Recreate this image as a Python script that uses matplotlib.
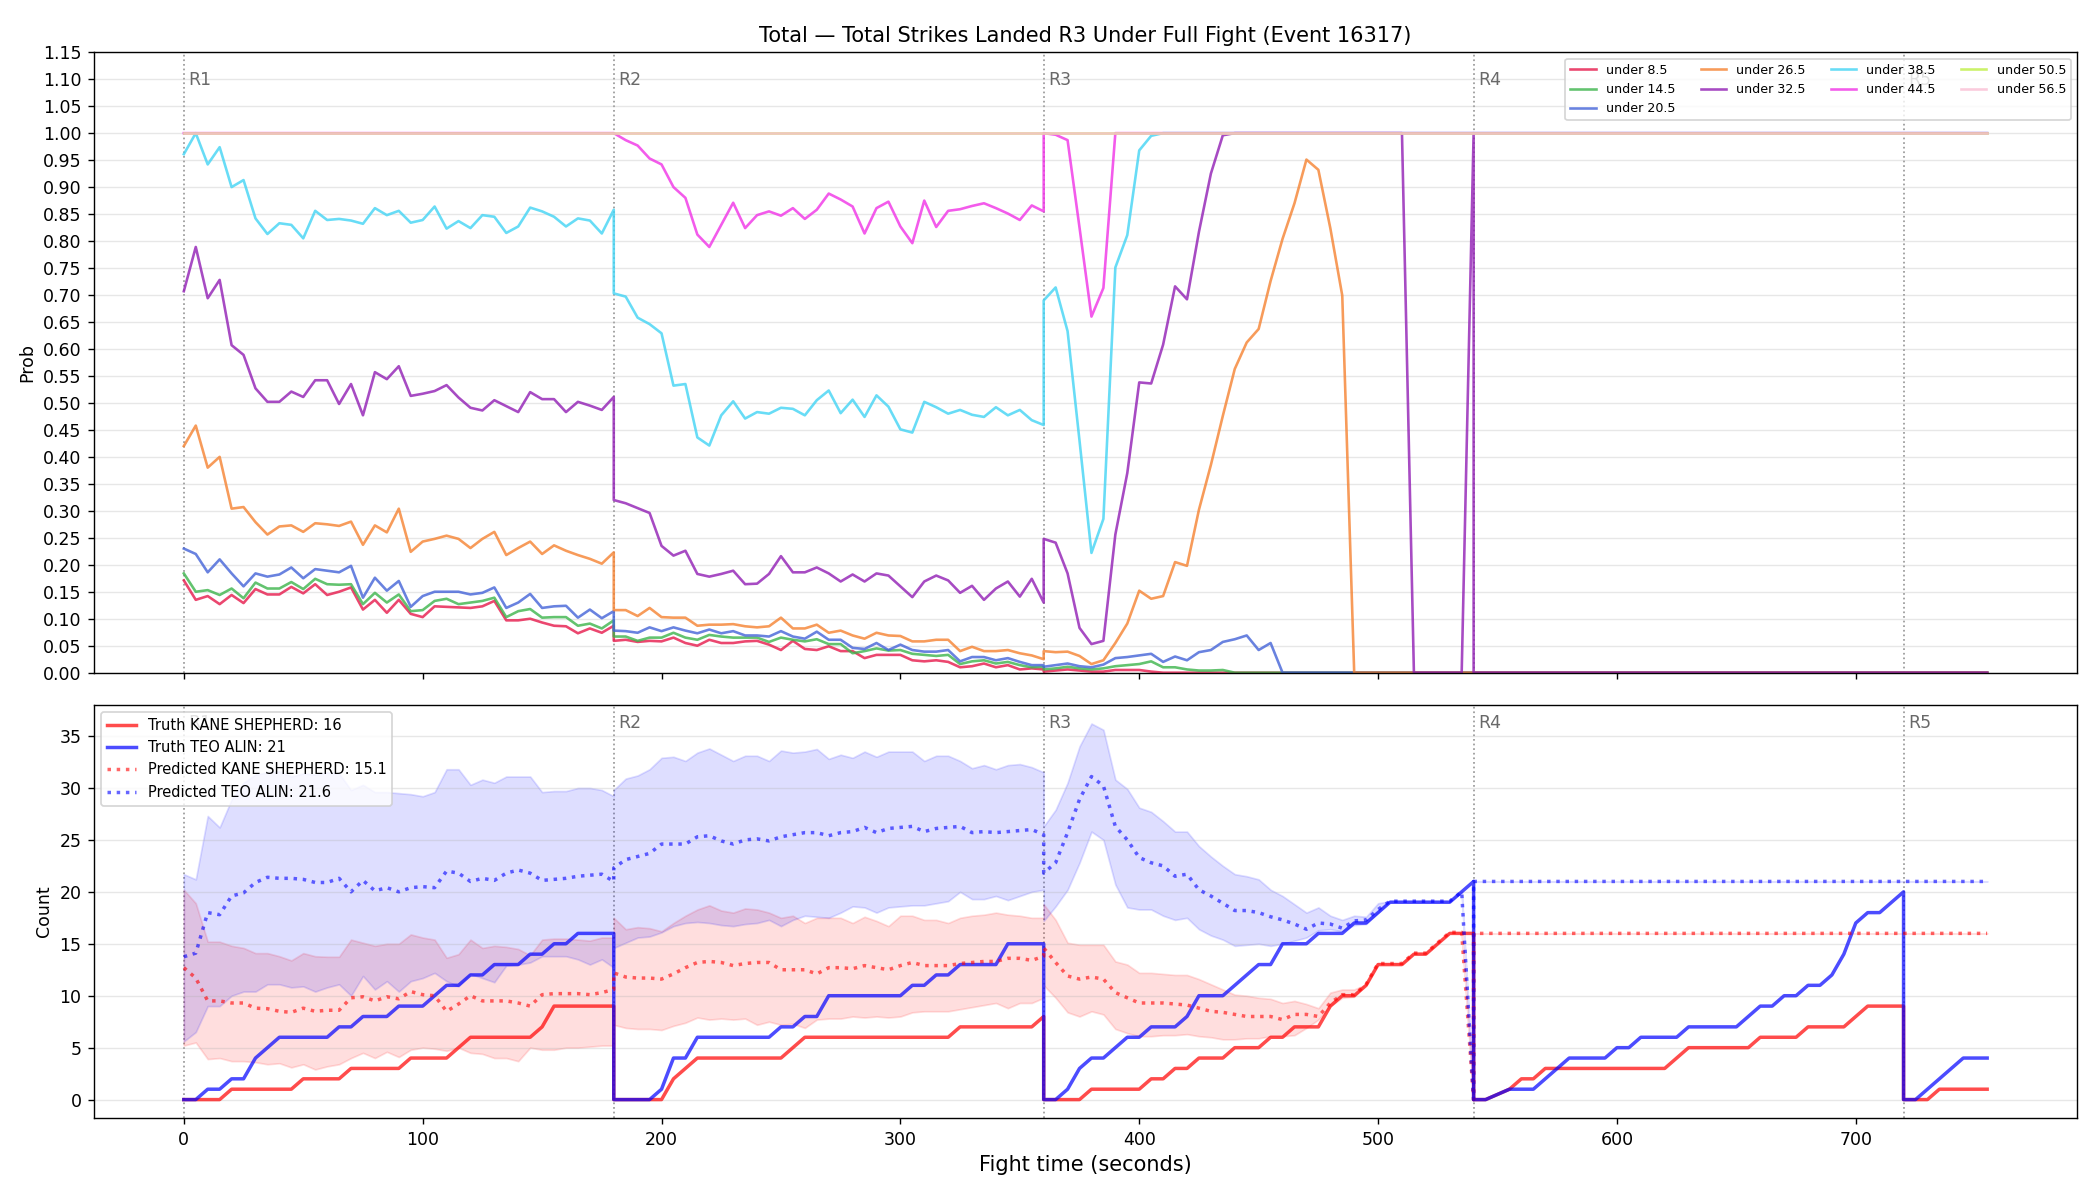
import numpy as np
import matplotlib.pyplot as plt

# rounds: start second, sampling every 5 s inside each round (R5 stops at 35 s)
round_starts = [0, 180, 360, 540, 720]
round_names = ["R1", "R2", "R3", "R4", "R5"]
round_clock = np.arange(0, 181, 5)
r5_clock = np.arange(0, 36, 5)

# after R3 is over the market is settled: flat 0 or 1 through R4 and R5
late_zero = [0.0] * 45
late_one = [1.0] * 45

# ---- top panel: P(R3 total strikes under X) ----
under_8_5 = (
    [0.171, 0.135, 0.142, 0.127, 0.144, 0.129, 0.155, 0.145, 0.145, 0.159,
     0.147, 0.164, 0.144, 0.150, 0.158, 0.117, 0.135, 0.111, 0.135, 0.109,
     0.103, 0.123, 0.122, 0.121, 0.120, 0.123, 0.133, 0.097, 0.097, 0.100,
     0.093, 0.087, 0.086, 0.073, 0.082, 0.074, 0.087]
    + [0.059, 0.061, 0.057, 0.059, 0.058, 0.065, 0.055, 0.050, 0.061, 0.055,
       0.055, 0.058, 0.059, 0.052, 0.042, 0.059, 0.044, 0.042, 0.049, 0.040,
       0.040, 0.027, 0.033, 0.033, 0.033, 0.023, 0.021, 0.023, 0.020, 0.010,
       0.012, 0.017, 0.010, 0.014, 0.006, 0.008, 0.006]
    + [0.002, 0.004, 0.006, 0.004, 0.002, 0.002, 0.005, 0.005, 0.005, 0.002]
    + [0.0] * 27
    + late_zero
)
under_14_5 = (
    [0.184, 0.150, 0.153, 0.144, 0.156, 0.138, 0.167, 0.156, 0.156, 0.168,
     0.155, 0.174, 0.164, 0.163, 0.164, 0.127, 0.148, 0.130, 0.145, 0.114,
     0.116, 0.133, 0.137, 0.127, 0.130, 0.133, 0.139, 0.103, 0.114, 0.118,
     0.102, 0.103, 0.103, 0.087, 0.091, 0.082, 0.097]
    + [0.067, 0.067, 0.059, 0.065, 0.065, 0.074, 0.065, 0.061, 0.070, 0.067,
       0.065, 0.065, 0.065, 0.057, 0.065, 0.061, 0.058, 0.062, 0.053, 0.053,
       0.036, 0.040, 0.045, 0.041, 0.042, 0.035, 0.033, 0.031, 0.033, 0.016,
       0.021, 0.023, 0.017, 0.020, 0.014, 0.010, 0.011]
    + [0.006, 0.008, 0.011, 0.008, 0.006, 0.008, 0.012, 0.014, 0.016, 0.021,
       0.010, 0.010, 0.006, 0.004, 0.004, 0.005]
    + [0.0] * 21
    + late_zero
)
under_20_5 = (
    [0.230, 0.220, 0.186, 0.210, 0.184, 0.160, 0.184, 0.178, 0.182, 0.195,
     0.175, 0.192, 0.189, 0.186, 0.198, 0.139, 0.176, 0.152, 0.170, 0.122,
     0.142, 0.150, 0.150, 0.150, 0.145, 0.148, 0.158, 0.120, 0.130, 0.146,
     0.120, 0.123, 0.124, 0.102, 0.117, 0.101, 0.114]
    + [0.078, 0.077, 0.074, 0.084, 0.077, 0.084, 0.078, 0.073, 0.080, 0.073,
       0.077, 0.069, 0.069, 0.067, 0.077, 0.067, 0.063, 0.076, 0.061, 0.061,
       0.046, 0.044, 0.055, 0.042, 0.052, 0.042, 0.039, 0.039, 0.042, 0.021,
       0.029, 0.029, 0.023, 0.027, 0.020, 0.014, 0.014]
    + [0.011, 0.014, 0.017, 0.012, 0.010, 0.015, 0.027, 0.029, 0.032, 0.035,
       0.020, 0.030, 0.023, 0.038, 0.042, 0.057, 0.062, 0.069, 0.042, 0.055]
    + [0.0] * 17
    + late_zero
)
under_26_5 = (
    [0.420, 0.458, 0.380, 0.400, 0.304, 0.307, 0.279, 0.256, 0.271, 0.273,
     0.261, 0.277, 0.275, 0.272, 0.280, 0.237, 0.273, 0.260, 0.304, 0.224,
     0.243, 0.248, 0.254, 0.248, 0.231, 0.248, 0.261, 0.218, 0.231, 0.243,
     0.220, 0.236, 0.226, 0.218, 0.211, 0.202, 0.223]
    + [0.116, 0.116, 0.105, 0.120, 0.103, 0.102, 0.102, 0.087, 0.089, 0.089,
       0.090, 0.086, 0.084, 0.086, 0.102, 0.082, 0.082, 0.089, 0.074, 0.078,
       0.069, 0.063, 0.074, 0.069, 0.068, 0.058, 0.058, 0.061, 0.061, 0.040,
       0.048, 0.040, 0.040, 0.042, 0.036, 0.032, 0.025]
    + [0.040, 0.038, 0.039, 0.031, 0.016, 0.023, 0.055, 0.091, 0.152, 0.137,
       0.142, 0.205, 0.198, 0.302, 0.385, 0.476, 0.563, 0.612, 0.637, 0.726,
       0.804, 0.870, 0.951, 0.932, 0.824, 0.699]
    + [0.0] * 11
    + late_zero
)
under_32_5 = (
    [0.707, 0.789, 0.694, 0.728, 0.607, 0.589, 0.527, 0.502, 0.502, 0.521,
     0.511, 0.542, 0.542, 0.498, 0.535, 0.477, 0.557, 0.544, 0.568, 0.513,
     0.517, 0.522, 0.533, 0.510, 0.491, 0.486, 0.505, 0.494, 0.483, 0.520,
     0.507, 0.507, 0.483, 0.502, 0.495, 0.487, 0.511]
    + [0.320, 0.314, 0.305, 0.296, 0.235, 0.217, 0.226, 0.183, 0.178, 0.183,
       0.189, 0.164, 0.165, 0.183, 0.216, 0.186, 0.186, 0.195, 0.184, 0.169,
       0.182, 0.169, 0.184, 0.180, 0.160, 0.140, 0.169, 0.180, 0.171, 0.148,
       0.161, 0.135, 0.156, 0.169, 0.141, 0.174, 0.130]
    + [0.248, 0.241, 0.184, 0.083, 0.053, 0.059, 0.256, 0.370, 0.538, 0.536,
       0.608, 0.716, 0.692, 0.817, 0.925, 0.996]
    + [1.0] * 15 + [0.0] * 5 + [1.0]
    + late_zero
)
under_38_5 = (
    [0.961, 1.000, 0.942, 0.974, 0.900, 0.913, 0.842, 0.813, 0.833, 0.830,
     0.805, 0.856, 0.839, 0.841, 0.838, 0.832, 0.861, 0.848, 0.856, 0.834,
     0.839, 0.864, 0.823, 0.837, 0.824, 0.848, 0.845, 0.815, 0.827, 0.862,
     0.855, 0.845, 0.827, 0.842, 0.838, 0.814, 0.858]
    + [0.703, 0.697, 0.658, 0.646, 0.629, 0.532, 0.535, 0.436, 0.421, 0.477,
       0.503, 0.471, 0.483, 0.480, 0.491, 0.489, 0.477, 0.505, 0.523, 0.481,
       0.506, 0.474, 0.514, 0.493, 0.451, 0.445, 0.502, 0.492, 0.480, 0.487,
       0.478, 0.474, 0.492, 0.477, 0.487, 0.468, 0.459]
    + [0.690, 0.714, 0.633, 0.430, 0.222, 0.285, 0.751, 0.811, 0.968, 0.995]
    + [1.0] * 27
    + late_one
)
under_44_5 = (
    [1.0] * 37
    + [1.000, 0.987, 0.977, 0.953, 0.942, 0.900, 0.880, 0.812, 0.789, 0.830,
       0.871, 0.824, 0.848, 0.855, 0.847, 0.861, 0.841, 0.858, 0.888, 0.877,
       0.864, 0.814, 0.861, 0.873, 0.827, 0.796, 0.875, 0.826, 0.856, 0.859,
       0.865, 0.870, 0.861, 0.851, 0.839, 0.866, 0.855]
    + [1.000, 0.997, 0.987, 0.825, 0.660, 0.713]
    + [1.0] * 31
    + late_one
)
under_50_5 = [1.0] * 111 + late_one
under_56_5 = [1.0] * 111 + late_one

line_labels = ["under 8.5", "under 14.5", "under 20.5", "under 26.5", "under 32.5",
               "under 38.5", "under 44.5", "under 50.5", "under 56.5"]
line_colors = ["#e6194B", "#3cb44b", "#4363d8", "#f58231", "#911eb4",
               "#42d4f4", "#f032e6", "#bfef45", "#fabed4"]

# ---- bottom panel: strikes per fighter (truth resets every round) ----
truth_kane = (
    [0, 0, 0, 0, 1, 1, 1, 1, 1, 1, 2, 2, 2, 2, 3, 3, 3, 3, 3, 4,
     4, 4, 4, 5, 6, 6, 6, 6, 6, 6, 7, 9, 9, 9, 9, 9, 9]
    + [0, 0, 0, 0, 0, 2, 3, 4, 4, 4, 4, 4, 4, 4, 4, 5, 6, 6, 6, 6,
       6, 6, 6, 6, 6, 6, 6, 6, 6, 7, 7, 7, 7, 7, 7, 7, 8]
    + [0, 0, 0, 0, 1, 1, 1, 1, 1, 2, 2, 3, 3, 4, 4, 4, 5, 5, 5, 6,
       6, 7, 7, 7, 9, 10, 10, 11, 13, 13, 13, 14, 14, 15, 16, 16, 16]
    + [0, 0, 0.5, 1, 2, 2, 3, 3, 3, 3, 3, 3, 3, 3, 3, 3, 3, 4, 5, 5,
       5, 5, 5, 5, 6, 6, 6, 6, 7, 7, 7, 7, 8, 9, 9, 9, 9]
    + [0, 0, 0, 1, 1, 1, 1, 1]
)
truth_teo = (
    [0, 0, 1, 1, 2, 2, 4, 5, 6, 6, 6, 6, 6, 7, 7, 8, 8, 8, 9, 9,
     9, 10, 11, 11, 12, 12, 13, 13, 13, 14, 14, 15, 15, 16, 16, 16, 16]
    + [0, 0, 0, 0, 1, 4, 4, 6, 6, 6, 6, 6, 6, 6, 7, 7, 8, 8, 10, 10,
       10, 10, 10, 10, 10, 11, 11, 12, 12, 13, 13, 13, 13, 15, 15, 15, 15]
    + [0, 0, 1, 3, 4, 4, 5, 6, 6, 7, 7, 7, 8, 10, 10, 10, 11, 12, 13, 13,
       15, 15, 15, 16, 16, 16, 17, 17, 18, 19, 19, 19, 19, 19, 19, 20, 21]
    + [0, 0, 0.5, 1, 1, 1, 2, 3, 4, 4, 4, 4, 5, 5, 6, 6, 6, 6, 7, 7,
       7, 7, 7, 8, 9, 9, 10, 10, 11, 11, 12, 14, 17, 18, 18, 19, 20]
    + [0, 0, 1, 2, 3, 4, 4, 4]
)
pred_kane = (
    [12.7, 11.7, 9.5, 9.5, 9.3, 9.3, 8.8, 8.75, 8.5, 8.4, 8.8, 8.5, 8.6, 8.6, 9.8,
     9.9, 9.5, 9.9, 9.7, 10.4, 10.1, 10.0, 8.5, 9.2, 10.0, 9.5, 9.5, 9.5, 9.3, 9.0,
     10.1, 10.2, 10.2, 10.2, 10.1, 10.3, 10.6]
    + [12.2, 11.8, 11.7, 11.7, 11.6, 12.1, 12.7, 13.2, 13.3, 13.2, 12.9, 13.1, 13.2,
       13.2, 12.5, 12.5, 12.5, 12.1, 12.7, 12.7, 12.6, 12.9, 12.7, 12.5, 12.9, 13.2,
       12.9, 12.9, 12.9, 13.1, 13.2, 13.3, 13.3, 13.6, 13.6, 13.4, 13.8]
    + [14.6, 13.2, 11.9, 11.6, 11.8, 11.6, 10.3, 9.8, 9.3, 9.3, 9.3, 9.2, 9.1, 8.8,
       8.5, 8.4, 8.2, 8.0, 8.0, 8.0, 7.7, 8.2, 8.2, 8.0, 9.3, 10.1, 10.1, 11.1, 13.1,
       13.1, 13.1, 14.1, 14.1, 15.1, 16.1, 16.1, 0.0]
    + [16.0] * 45
)
kane_low = (
    [5.2, 5.5, 3.9, 4.0, 3.7, 3.7, 3.6, 3.4, 3.5, 3.1, 3.4, 2.9, 3.2, 3.4, 4.0,
     4.5, 4.0, 4.6, 4.1, 4.8, 5.0, 4.9, 4.7, 5.0, 4.5, 4.4, 4.0, 4.0, 3.7, 5.0,
     4.8, 4.8, 5.0, 5.0, 5.1, 5.2, 5.2]
    + [7.2, 6.9, 6.8, 6.8, 6.7, 7.1, 7.4, 7.9, 7.7, 7.8, 7.7, 7.8, 7.2, 7.5, 7.2,
       7.3, 6.9, 7.7, 7.8, 7.8, 8.0, 7.9, 8.0, 7.9, 8.0, 8.4, 8.5, 8.5, 8.5, 8.7,
       8.9, 9.1, 9.3, 8.8, 9.3, 9.3, 9.8]
    + [11.0, 9.8, 8.4, 8.0, 8.5, 8.2, 6.8, 6.4, 6.1, 6.1, 6.2, 6.2, 6.3, 6.1, 6.0,
       5.8, 5.8, 5.9, 5.9, 6.1, 6.1, 6.2, 6.9, 7.7, 9.0, 9.8, 9.9, 11.1, 13.1,
       13.1, 13.1, 14.1, 14.1, 15.1, 16.1, 16.1, 0.0]
    + [16.0] * 45
)
kane_high = (
    [20.2, 18.9, 15.2, 15.2, 14.8, 14.6, 14.1, 14.1, 13.8, 13.4, 14.1, 13.8, 13.75,
     13.75, 15.4, 15.1, 14.8, 15.0, 15.0, 15.9, 15.6, 15.4, 13.65, 14.0, 15.4, 14.6,
     14.8, 14.7, 14.5, 13.9, 15.4, 15.5, 15.5, 15.4, 15.3, 15.6, 15.6]
    + [17.5, 16.4, 16.6, 16.5, 16.2, 17.0, 17.7, 18.3, 18.7, 18.2, 18.0, 18.4, 18.3,
       18.0, 17.5, 17.7, 17.0, 17.5, 17.5, 17.5, 17.0, 17.6, 17.2, 16.7, 17.7, 17.7,
       17.3, 17.3, 17.0, 17.5, 17.7, 17.8, 18.0, 17.8, 17.7, 17.5, 17.5]
    + [18.8, 17.3, 15.1, 14.9, 14.9, 14.9, 13.3, 13.0, 12.2, 12.2, 12.1, 12.0, 12.0,
       11.6, 11.1, 10.6, 10.1, 10.0, 9.8, 9.7, 9.3, 9.5, 9.2, 8.8, 10.3, 10.6, 10.6,
       11.1, 13.1, 13.1, 13.1, 14.1, 14.1, 15.1, 16.1, 16.1, 0.0]
    + [16.0] * 45
)
pred_teo = (
    [13.75, 14.1, 18.0, 17.8, 19.6, 19.9, 20.9, 21.4, 21.3, 21.3, 21.2, 20.9, 20.9,
     21.3, 20.0, 21.1, 20.1, 20.4, 20.0, 20.4, 20.5, 20.4, 22.0, 21.8, 21.0, 21.3,
     21.1, 21.8, 22.1, 21.8, 21.1, 21.2, 21.3, 21.5, 21.6, 21.7, 21.0]
    + [22.3, 23.1, 23.4, 23.7, 24.6, 24.6, 24.6, 25.3, 25.4, 24.9, 24.6, 25.0, 25.1,
       24.9, 25.3, 25.5, 25.7, 25.7, 25.4, 25.7, 25.8, 26.2, 25.7, 26.1, 26.2, 26.3,
       25.8, 26.1, 26.2, 26.3, 25.7, 25.8, 25.7, 25.8, 25.9, 26.0, 25.5]
    + [21.8, 22.8, 25.7, 28.9, 31.1, 30.2, 26.3, 25.0, 23.3, 22.8, 22.5, 21.5, 21.7,
       20.2, 19.6, 18.9, 18.2, 18.2, 18.0, 17.6, 17.3, 16.9, 16.4, 17.0, 16.9, 16.5,
       17.2, 17.3, 18.3, 19.1, 19.1, 19.1, 19.1, 19.1, 19.1, 20.0, 0.0]
    + [21.0] * 45
)
teo_low = (
    [5.6, 6.5, 9.0, 9.0, 10.0, 10.4, 10.4, 11.1, 11.1, 10.8, 10.9, 10.4, 10.8, 11.1,
     10.0, 11.9, 10.6, 11.4, 10.4, 11.4, 11.7, 12.2, 11.4, 10.9, 12.1, 11.7, 11.3,
     12.9, 13.0, 13.2, 13.8, 13.8, 13.8, 13.5, 13.0, 13.5, 12.7]
    + [14.6, 15.1, 15.6, 15.7, 16.1, 16.7, 17.0, 17.1, 17.0, 16.8, 16.7, 16.9, 17.0,
       17.3, 16.7, 17.3, 17.7, 17.6, 17.5, 18.0, 18.6, 18.5, 18.0, 18.5, 18.6, 18.7,
       18.7, 18.9, 19.1, 20.0, 19.3, 19.3, 19.6, 19.2, 19.6, 20.0, 20.2]
    + [17.2, 18.6, 20.2, 22.8, 25.8, 25.0, 20.7, 18.5, 18.3, 18.3, 17.7, 17.3, 17.5,
       16.4, 15.8, 15.4, 14.8, 14.9, 15.0, 14.8, 15.0, 15.3, 15.6, 16.3, 16.4, 16.2,
       16.8, 16.9, 18.0, 19.1, 19.1, 19.1, 19.1, 19.1, 19.1, 20.0, 0.0]
    + [21.0] * 45
)
teo_high = (
    [21.7, 21.2, 27.3, 26.2, 28.9, 30.5, 31.3, 31.5, 31.6, 31.1, 31.4, 31.3, 31.5,
     31.4, 29.8, 30.3, 29.6, 29.6, 29.5, 29.4, 29.2, 29.6, 31.8, 31.8, 30.3, 30.8,
     30.5, 31.1, 31.1, 31.1, 29.6, 29.7, 29.7, 30.0, 30.0, 29.8, 29.2]
    + [29.8, 30.9, 31.2, 31.8, 32.9, 33.0, 32.6, 33.4, 33.8, 33.2, 32.6, 33.1, 33.1,
       32.6, 33.6, 33.4, 33.5, 33.75, 32.8, 33.2, 32.9, 33.5, 33.0, 33.5, 33.5, 33.5,
       32.6, 33.1, 33.1, 32.6, 31.9, 32.2, 31.8, 32.2, 32.3, 32.0, 31.5]
    + [26.3, 27.9, 30.5, 34.0, 36.2, 35.6, 30.8, 29.9, 28.1, 27.7, 26.8, 25.8, 25.8,
       24.4, 23.4, 22.5, 21.7, 21.5, 21.2, 20.2, 19.6, 18.8, 18.0, 18.5, 17.7, 17.3,
       17.7, 17.6, 18.9, 19.1, 19.1, 19.1, 19.1, 19.1, 19.1, 20.0, 0.0]
    + [21.0] * 45
)

# fight clock: each round's samples shifted by the round start
clocks = [round_clock] * 4 + [r5_clock]
fight_time = np.concatenate([s + c for s, c in zip(round_starts, clocks)])

fig, (ax1, ax2) = plt.subplots(2, 1, figsize=(16.8, 9.6), dpi=125, sharex=True,
                               gridspec_kw={"height_ratios": [3, 2]})
fig.subplots_adjust(left=0.0446, right=0.9892, top=0.9565, bottom=0.068, hspace=0.062)

series = [under_8_5, under_14_5, under_20_5, under_26_5, under_32_5,
          under_38_5, under_44_5, under_50_5, under_56_5]
for vals, lab, col in zip(series, line_labels, line_colors):
    ax1.plot(fight_time, vals, color=col, lw=1.5, alpha=0.8, label=lab)

ax1.set_ylim(0, 1.15)
ax1.set_yticks(np.arange(0, 1.151, 0.05))
ax1.set_yticklabels([f"{v:.2f}" for v in np.arange(0, 1.151, 0.05)])
ax1.set_ylabel("Prob")
ax1.grid(axis="y", alpha=0.3)
ax1.set_title("Total \u2014 Total Strikes Landed R3 Under Full Fight (Event 16317)", fontsize=12)
ax1.legend(loc="upper right", ncol=4, fontsize=7.3)

# bottom panel
ax2.fill_between(fight_time, kane_low, kane_high, color="red", alpha=0.13, lw=1)
ax2.fill_between(fight_time, teo_low, teo_high, color="blue", alpha=0.13, lw=1)
ax2.plot(fight_time, truth_kane, color="red", lw=2, alpha=0.7, label="Truth KANE SHEPHERD: 16")
ax2.plot(fight_time, truth_teo, color="blue", lw=2, alpha=0.7, label="Truth TEO ALIN: 21")
ax2.plot(fight_time, pred_kane, color="red", lw=2, ls=":", alpha=0.6,
         label="Predicted KANE SHEPHERD: 15.1")
ax2.plot(fight_time, pred_teo, color="blue", lw=2, ls=":", alpha=0.6,
         label="Predicted TEO ALIN: 21.6")
ax2.set_ylabel("Count")
ax2.set_xlabel("Fight time (seconds)", fontsize=12)
ax2.grid(axis="y", alpha=0.3)
ax2.legend(loc="upper left", fontsize=8.4)

# round markers on both panels
for ax in (ax1, ax2):
    for start, name in zip(round_starts, round_names):
        ax.axvline(start, color="gray", ls=":", lw=1, alpha=0.8, zorder=0)
        ax.text(start + 2, 0.955, name, transform=ax.get_xaxis_transform(),
                color="dimgray", fontsize=10, va="center", ha="left")

fig.savefig("out.png", dpi=125)
